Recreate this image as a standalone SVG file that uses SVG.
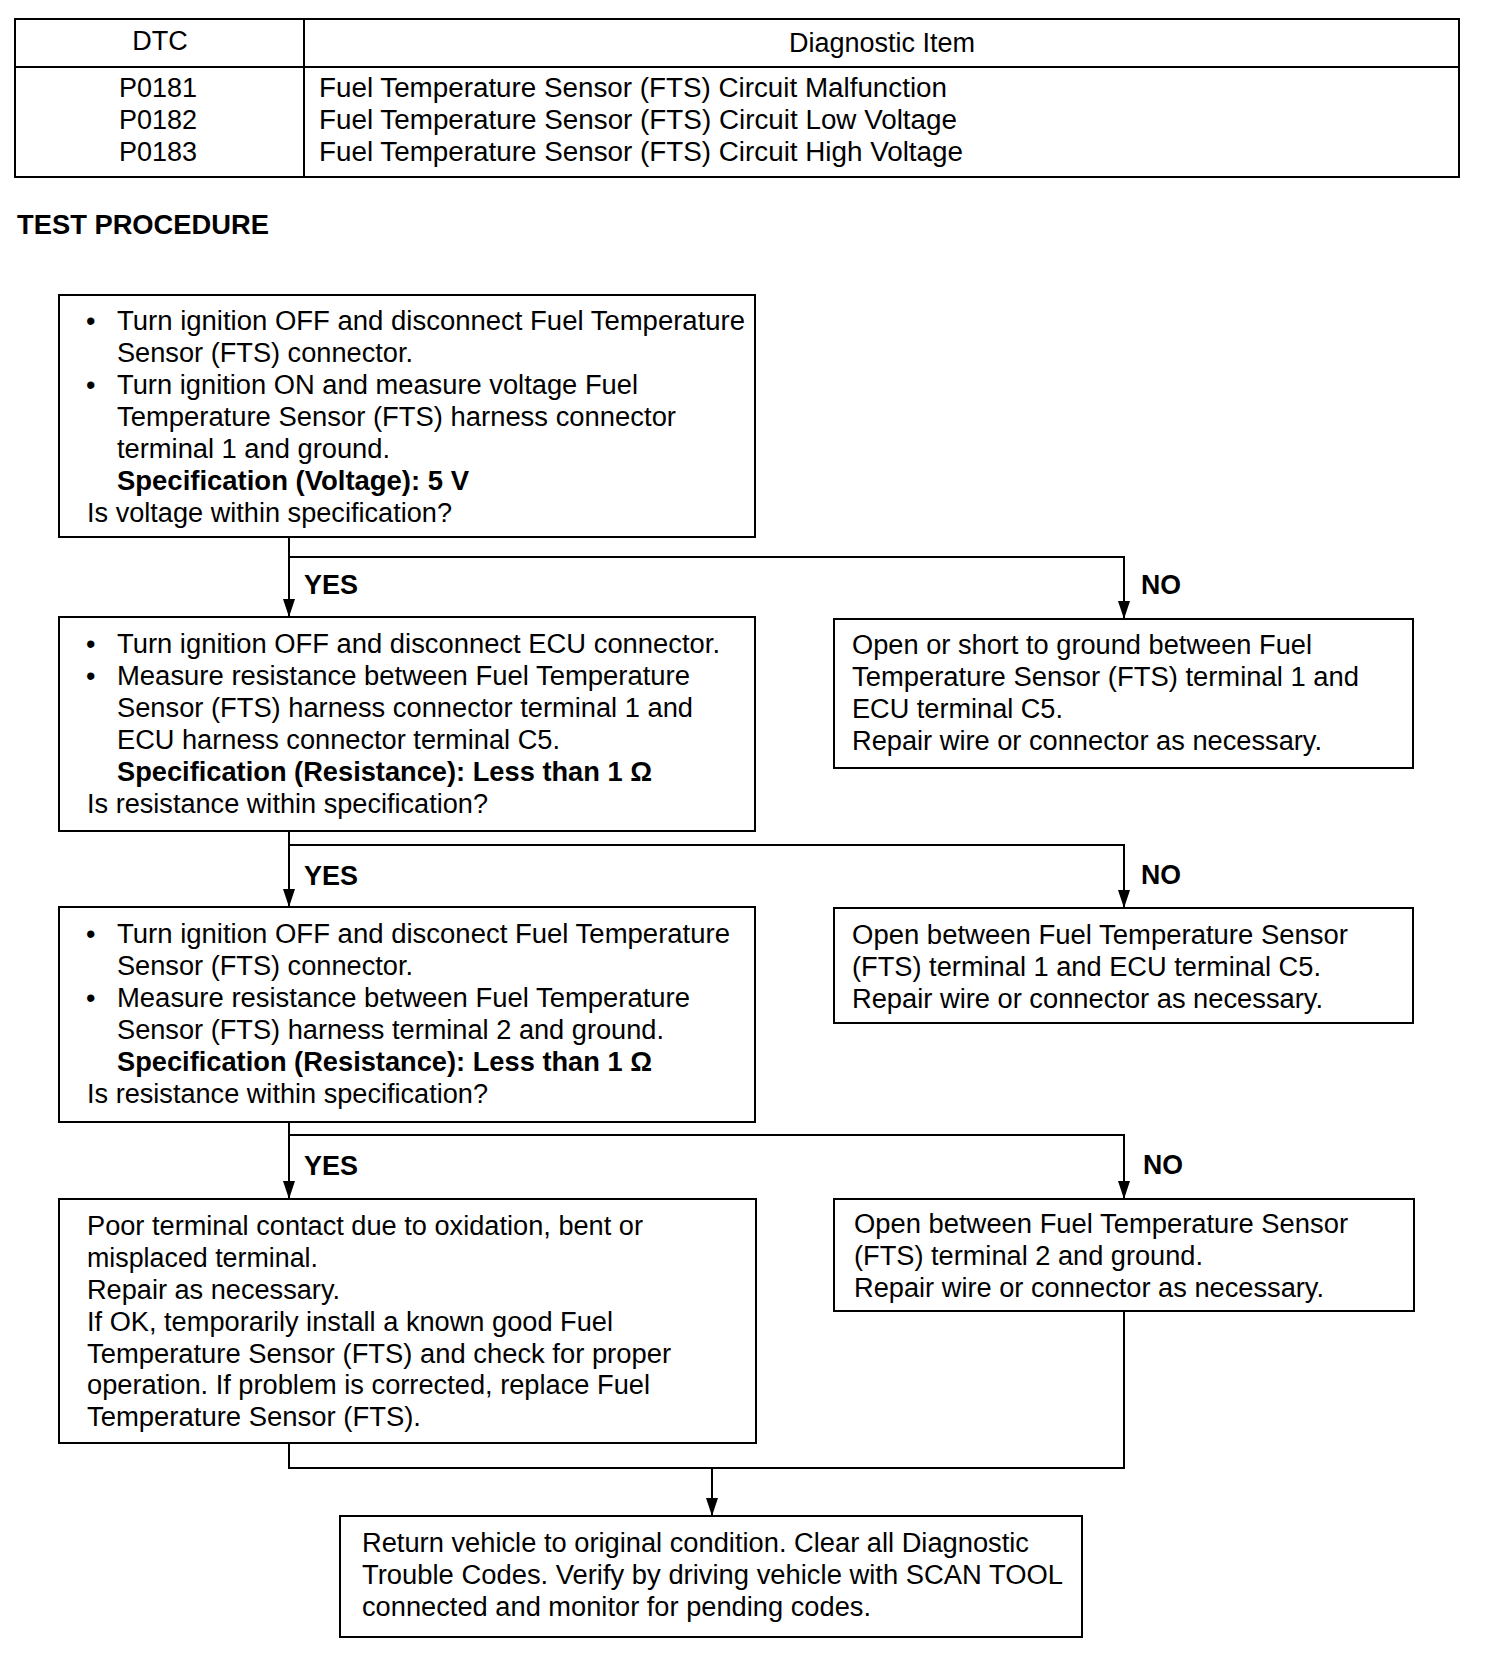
<svg xmlns="http://www.w3.org/2000/svg" width="1504" height="1656" viewBox="0 0 1504 1656">
<style>
text{font-family:"Liberation Sans",Arial,sans-serif;font-size:27px;fill:#000}
.b{font-weight:bold}
.box{fill:#fff;stroke:#000;stroke-width:2}
.ln{fill:none;stroke:#000;stroke-width:2}
</style>
<defs>
<marker id="ah" markerUnits="userSpaceOnUse" markerWidth="20" markerHeight="14" refX="18" refY="6" orient="auto">
<path d="M0,0 L18,6 L0,12 Z" fill="#000"/>
</marker>
</defs>
<rect width="1504" height="1656" fill="#fff"/>

<g id="dtc-table">
<rect class="box" x="15" y="19" width="1444" height="158"/>
<line class="ln" x1="15" y1="67" x2="1459" y2="67"/>
<line class="ln" x1="304" y1="19" x2="304" y2="177"/>
<text x="160" y="50" text-anchor="middle">DTC</text>
<text x="882" y="52" text-anchor="middle">Diagnostic Item</text>
<text x="158" y="97" text-anchor="middle">P0181</text>
<text x="158" y="129" text-anchor="middle">P0182</text>
<text x="158" y="161" text-anchor="middle">P0183</text>
<text x="319" y="97" textLength="628" lengthAdjust="spacingAndGlyphs">Fuel Temperature Sensor (FTS) Circuit Malfunction</text>
<text x="319" y="129" textLength="638" lengthAdjust="spacingAndGlyphs">Fuel Temperature Sensor (FTS) Circuit Low Voltage</text>
<text x="319" y="161" textLength="644" lengthAdjust="spacingAndGlyphs">Fuel Temperature Sensor (FTS) Circuit High Voltage</text>
</g>

<g id="title">
<text class="b" x="17" y="234" textLength="252" lengthAdjust="spacingAndGlyphs">TEST PROCEDURE</text>
</g>

<g id="connectors">
<line class="ln" x1="289" y1="537" x2="289" y2="617" marker-end="url(#ah)"/>
<polyline class="ln" points="289,557 1124,557 1124,619" marker-end="url(#ah)"/>
<line class="ln" x1="289" y1="831" x2="289" y2="907" marker-end="url(#ah)"/>
<polyline class="ln" points="289,845 1124,845 1124,908" marker-end="url(#ah)"/>
<line class="ln" x1="289" y1="1122" x2="289" y2="1199" marker-end="url(#ah)"/>
<polyline class="ln" points="289,1135 1124,1135 1124,1199" marker-end="url(#ah)"/>
<polyline class="ln" points="289,1443 289,1468 1124,1468 1124,1311"/>
<line class="ln" x1="712" y1="1468" x2="712" y2="1516" marker-end="url(#ah)"/>
<text class="b" x="304" y="594" textLength="54" lengthAdjust="spacingAndGlyphs">YES</text>
<text class="b" x="1141" y="594" textLength="40" lengthAdjust="spacingAndGlyphs">NO</text>
<text class="b" x="304" y="885" textLength="54" lengthAdjust="spacingAndGlyphs">YES</text>
<text class="b" x="1141" y="884" textLength="40" lengthAdjust="spacingAndGlyphs">NO</text>
<text class="b" x="304" y="1175" textLength="54" lengthAdjust="spacingAndGlyphs">YES</text>
<text class="b" x="1143" y="1174" textLength="40" lengthAdjust="spacingAndGlyphs">NO</text>
</g>

<g id="step1">
<rect class="box" x="59" y="295" width="696" height="242"/>
<text x="86" y="330">•</text>
<text x="117" y="330" textLength="628" lengthAdjust="spacingAndGlyphs">Turn ignition OFF and disconnect Fuel Temperature</text>
<text x="117" y="362" textLength="296" lengthAdjust="spacingAndGlyphs">Sensor (FTS) connector.</text>
<text x="86" y="394">•</text>
<text x="117" y="394" textLength="521" lengthAdjust="spacingAndGlyphs">Turn ignition ON and measure voltage Fuel</text>
<text x="117" y="426" textLength="559" lengthAdjust="spacingAndGlyphs">Temperature Sensor (FTS) harness connector</text>
<text x="117" y="458" textLength="273" lengthAdjust="spacingAndGlyphs">terminal 1 and ground.</text>
<text class="b" x="117" y="490" textLength="352" lengthAdjust="spacingAndGlyphs">Specification (Voltage): 5 V</text>
<text x="87" y="522" textLength="365" lengthAdjust="spacingAndGlyphs">Is voltage within specification?</text>
</g>

<g id="step2">
<rect class="box" x="59" y="617" width="696" height="214"/>
<text x="86" y="653">•</text>
<text x="117" y="653" textLength="603" lengthAdjust="spacingAndGlyphs">Turn ignition OFF and disconnect ECU connector.</text>
<text x="86" y="685">•</text>
<text x="117" y="685" textLength="573" lengthAdjust="spacingAndGlyphs">Measure resistance between Fuel Temperature</text>
<text x="117" y="717" textLength="576" lengthAdjust="spacingAndGlyphs">Sensor (FTS) harness connector terminal 1 and</text>
<text x="117" y="749" textLength="443" lengthAdjust="spacingAndGlyphs">ECU harness connector terminal C5.</text>
<text class="b" x="117" y="781" textLength="535" lengthAdjust="spacingAndGlyphs">Specification (Resistance): Less than 1 Ω</text>
<text x="87" y="813" textLength="401" lengthAdjust="spacingAndGlyphs">Is resistance within specification?</text>
</g>

<g id="no1">
<rect class="box" x="834" y="619" width="579" height="149"/>
<text x="852" y="654" textLength="460" lengthAdjust="spacingAndGlyphs">Open or short to ground between Fuel</text>
<text x="852" y="686" textLength="507" lengthAdjust="spacingAndGlyphs">Temperature Sensor (FTS) terminal 1 and</text>
<text x="852" y="718" textLength="211" lengthAdjust="spacingAndGlyphs">ECU terminal C5.</text>
<text x="852" y="750" textLength="470" lengthAdjust="spacingAndGlyphs">Repair wire or connector as necessary.</text>
</g>

<g id="step3">
<rect class="box" x="59" y="907" width="696" height="215"/>
<text x="86" y="943">•</text>
<text x="117" y="943" textLength="613" lengthAdjust="spacingAndGlyphs">Turn ignition OFF and disconect Fuel Temperature</text>
<text x="117" y="975" textLength="296" lengthAdjust="spacingAndGlyphs">Sensor (FTS) connector.</text>
<text x="86" y="1007">•</text>
<text x="117" y="1007" textLength="573" lengthAdjust="spacingAndGlyphs">Measure resistance between Fuel Temperature</text>
<text x="117" y="1039" textLength="547" lengthAdjust="spacingAndGlyphs">Sensor (FTS) harness terminal 2 and ground.</text>
<text class="b" x="117" y="1071" textLength="535" lengthAdjust="spacingAndGlyphs">Specification (Resistance): Less than 1 Ω</text>
<text x="87" y="1103" textLength="401" lengthAdjust="spacingAndGlyphs">Is resistance within specification?</text>
</g>

<g id="no2">
<rect class="box" x="834" y="908" width="579" height="115"/>
<text x="852" y="944" textLength="496" lengthAdjust="spacingAndGlyphs">Open between Fuel Temperature Sensor</text>
<text x="852" y="976" textLength="469" lengthAdjust="spacingAndGlyphs">(FTS) terminal 1 and ECU terminal C5.</text>
<text x="852" y="1008" textLength="471" lengthAdjust="spacingAndGlyphs">Repair wire or connector as necessary.</text>
</g>

<g id="step4">
<rect class="box" x="59" y="1199" width="697" height="244"/>
<text x="87" y="1235" textLength="556" lengthAdjust="spacingAndGlyphs">Poor terminal contact due to oxidation, bent or</text>
<text x="87" y="1267" textLength="231" lengthAdjust="spacingAndGlyphs">misplaced terminal.</text>
<text x="87" y="1299" textLength="253" lengthAdjust="spacingAndGlyphs">Repair as necessary.</text>
<text x="87" y="1331" textLength="526" lengthAdjust="spacingAndGlyphs">If OK, temporarily install a known good Fuel</text>
<text x="87" y="1363" textLength="584" lengthAdjust="spacingAndGlyphs">Temperature Sensor (FTS) and check for proper</text>
<text x="87" y="1394" textLength="563" lengthAdjust="spacingAndGlyphs">operation. If problem is corrected, replace Fuel</text>
<text x="87" y="1426" textLength="334" lengthAdjust="spacingAndGlyphs">Temperature Sensor (FTS).</text>
</g>

<g id="no3">
<rect class="box" x="834" y="1199" width="580" height="112"/>
<text x="854" y="1233" textLength="494" lengthAdjust="spacingAndGlyphs">Open between Fuel Temperature Sensor</text>
<text x="854" y="1265" textLength="349" lengthAdjust="spacingAndGlyphs">(FTS) terminal 2 and ground.</text>
<text x="854" y="1297" textLength="470" lengthAdjust="spacingAndGlyphs">Repair wire or connector as necessary.</text>
</g>

<g id="final">
<rect class="box" x="340" y="1516" width="742" height="121"/>
<text x="362" y="1552" textLength="667" lengthAdjust="spacingAndGlyphs">Return vehicle to original condition. Clear all Diagnostic</text>
<text x="362" y="1584" textLength="701" lengthAdjust="spacingAndGlyphs">Trouble Codes. Verify by driving vehicle with SCAN TOOL</text>
<text x="362" y="1616" textLength="509" lengthAdjust="spacingAndGlyphs">connected and monitor for pending codes.</text>
</g>
</svg>
